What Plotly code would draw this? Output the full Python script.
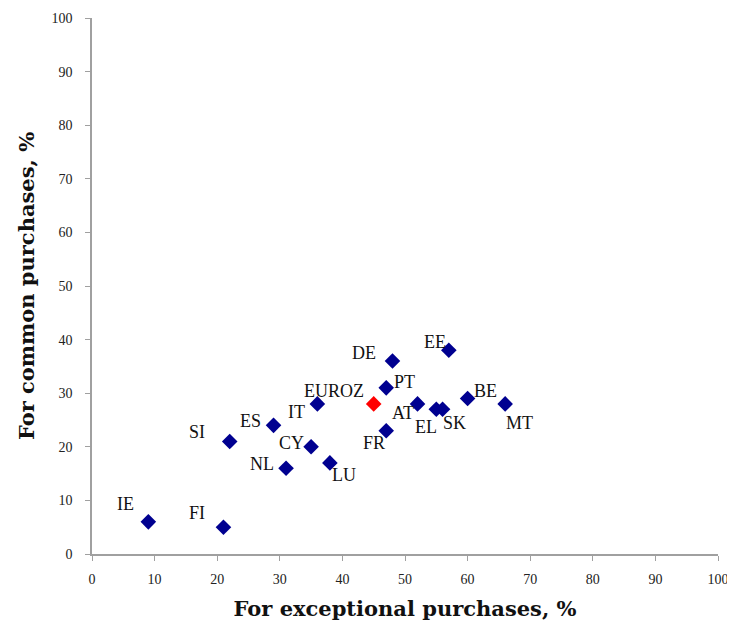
import plotly.graph_objects as go

countries = ["IE", "FI", "SI", "ES", "NL", "CY", "IT", "LU", "DE", "PT", "FR", "AT", "EL", "SK", "EE", "BE", "MT"]
exceptional = [9, 21, 22, 29, 31, 35, 36, 38, 48, 47, 47, 52, 55, 56, 57, 60, 66]
common = [6, 5, 21, 24, 16, 20, 28, 17, 36, 31, 23, 28, 27, 27, 38, 29, 28]

euro_name = ["EUROZ"]
euro_x = [45]
euro_y = [28]

ticks = [0, 10, 20, 30, 40, 50, 60, 70, 80, 90, 100]

# label pixel offsets (style only)
label_dx = [-23, -26, -33, -23, -24, -20, -21, 14, -28, 18, -12, -15, -10, 12, -14, 18, 14]
label_dy = [18, 14, 9, 4, 4, 4, -8, -12, 8, 6, -12, -9, -18, -14, 8, 8, -19]
euro_dx, euro_dy = -40, 13

fig = go.Figure()
fig.add_trace(go.Scatter(
    x=exceptional, y=common, mode="markers",
    marker=dict(symbol="diamond", size=12, color="#000090"),
    showlegend=False, cliponaxis=False))
fig.add_trace(go.Scatter(
    x=euro_x, y=euro_y, mode="markers",
    marker=dict(symbol="diamond", size=12, color="#ff0000"),
    showlegend=False, cliponaxis=False))

lab_font = dict(family="Liberation Serif", size=18, color="#111")
for name, xv, yv, dx, dy in zip(countries, exceptional, common, label_dx, label_dy):
    fig.add_annotation(x=xv, y=yv, text=name, showarrow=False, xshift=dx, yshift=dy,
                       xanchor="center", yanchor="middle", font=lab_font)
fig.add_annotation(x=euro_x[0], y=euro_y[0], text=euro_name[0], showarrow=False,
                   xshift=euro_dx, yshift=euro_dy, xanchor="center", yanchor="middle", font=lab_font)

axis_common = dict(range=[0, 100], tickvals=ticks, showgrid=False, zeroline=False,
                   showline=True, linecolor="#a0a0a0", linewidth=1.5, ticks="outside",
                   tickcolor="#a0a0a0", ticklen=5, automargin=False, ticklabeloverflow="allow",
                   tickfont=dict(family="Liberation Serif", size=14, color="#222"))
fig.update_xaxes(**axis_common, ticklabelstandoff=6,
                 title=dict(text="<b>For exceptional purchases, %</b>", standoff=18,
                            font=dict(family="DejaVu Serif", size=21, color="#111")))
fig.update_yaxes(**axis_common, ticklabelstandoff=10,
                 title=dict(text="<b>For common purchases, %</b>", standoff=11,
                            font=dict(family="DejaVu Serif", size=21, color="#111")))
fig.update_layout(width=727, height=613, margin=dict(l=84, r=17, t=10, b=67),
                  plot_bgcolor="white", paper_bgcolor="white")
fig.write_html("out.html")
